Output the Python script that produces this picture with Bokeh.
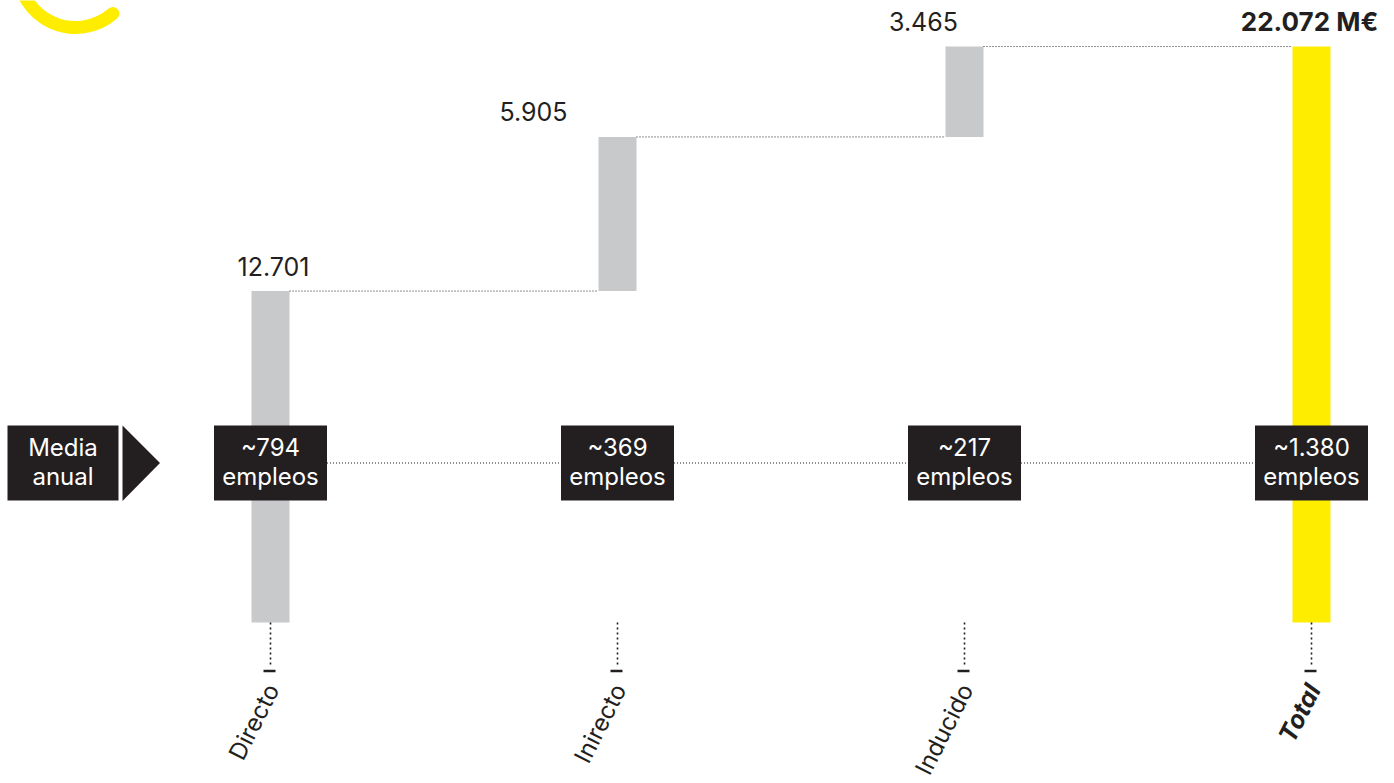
from bokeh.plotting import figure
from bokeh.models import Range1d
from bokeh.embed import file_html
from bokeh.resources import INLINE
from bokeh.core.properties import value

# ---------------- data ----------------
categories = ["Directo", "Inirecto", "Inducido", "Total"]
impacto = [12701, 5905, 3465, 22072]          # M€
value_labels = ["12.701", "5.905", "3.465", "22.072 M€"]
empleos_num = ["~794", "~369", "~217", "~1.380"]
empleos_txt = ["empleos", "empleos", "empleos", "empleos"]

# ---------------- layout ----------------
W, H = 1394, 783
CAT_PX = 347.0          # px between category centres
X0_PX = 270.0           # px of first category centre
BASE_PX = 622.0         # px (from top) of value 0
TOP_PX = 46.0           # px (from top) of the total bar top
scale = (BASE_PX - TOP_PX) / impacto[3]
x_start = -X0_PX / CAT_PX
x_end = x_start + W / CAT_PX
y_start = -(H - BASE_PX) / scale
y_end = y_start + H / scale


def dx(px):
    return px / CAT_PX


def dy(px):
    return px / scale


def xp(px):
    return x_start + px / CAT_PX


def yp(py):
    return y_start + (H - py) / scale


FONT = value("Inter")
INK = "#231f20"
GREY = "#c8c9cb"
YELLOW = "#ffed00"

p = figure(width=W, height=H, x_range=Range1d(x_start, x_end), y_range=Range1d(y_start, y_end),
           output_backend="svg", toolbar_location=None, min_border=0,
           min_border_left=0, min_border_right=0, min_border_top=0, min_border_bottom=0)
p.axis.visible = False
p.grid.visible = False
p.outline_line_color = None
p.background_fill_color = "white"
p.border_fill_color = "white"

idx = list(range(len(categories)))

# waterfall bottoms / tops
bottoms, tops = [], []
cum = 0
for v in impacto[:-1]:
    bottoms.append(cum)
    cum += v
    tops.append(cum)
bottoms.append(0)
tops.append(impacto[-1])
colors = [GREY] * (len(categories) - 1) + [YELLOW]

BW = dx(38)
p.vbar(x=idx, width=BW, bottom=bottoms, top=tops, fill_color=colors, line_color=None)

# connectors between bar tops
p.segment(x0=[i + BW / 2 for i in idx[:-1]], y0=tops[:-1],
          x1=[i + 1 - BW / 2 for i in idx[:-1]], y1=tops[:-1],
          line_color=INK, line_dash="1 2", line_width=1)

# value labels
lab_off = [3, -84, -41, -2]
lab_x = [i + dx(o) for i, o in zip(idx, lab_off)]
lab_y = [t + dy(25) for t in tops]
p.text(x=lab_x[:-1], y=lab_y[:-1], text=value_labels[:-1], text_font=FONT, text_font_size="25px",
       text_color=INK, text_align="center", text_baseline="middle")
p.text(x=lab_x[-1:], y=lab_y[-1:], text=value_labels[-1:], text_font=FONT, text_font_size="26px",
       text_font_style="bold", text_color=INK, text_align="center", text_baseline="middle")

# ticks below bars
tick_end = yp(667)
p.segment(x0=idx, y0=[0] * 4, x1=idx, y1=[tick_end] * 4, line_color=INK, line_dash="2 3", line_width=1.6)
p.scatter(x=[i - dx(1) for i in idx], y=[yp(670.5)] * 4, marker="dash", size=12, line_width=2.5, line_color=INK)

# category labels (rotated)
cat_y = yp(685)
p.text(x=[i + dx(2) for i in idx[:-1]], y=[cat_y] * 3, text=categories[:-1], angle=63, angle_units="deg",
       text_font=FONT, text_font_size="24px", text_color=INK, text_align="right", text_baseline="middle")
p.text(x=[idx[-1] + dx(2)], y=[cat_y], text=categories[-1:], angle=63, angle_units="deg",
       text_font=FONT, text_font_size="25px", text_font_style="bold italic", text_color=INK,
       text_align="right", text_baseline="middle")

# employment boxes
BOX_Y = yp(462.5)
half = dx(56.5)
p.segment(x0=[i + half for i in idx[:-1]], y0=[BOX_Y] * 3, x1=[i + 1 - half for i in idx[:-1]], y1=[BOX_Y] * 3,
          line_color=INK, line_dash="1 2", line_width=1)
p.rect(x=idx, y=[BOX_Y] * 4, width=113, height=75, width_units="screen", height_units="screen",
       fill_color=INK, line_color=None)
p.text(x=idx, y=[yp(447)] * 4, text=empleos_num, text_font=FONT, text_font_size="24px",
       text_color="white", text_align="center", text_baseline="middle")
p.text(x=idx, y=[yp(476)] * 4, text=empleos_txt, text_font=FONT, text_font_size="24px",
       text_color="white", text_align="center", text_baseline="middle")

# "Media anual" box with arrow
p.rect(x=[xp(62.5)], y=[BOX_Y], width=111, height=75, width_units="screen", height_units="screen",
       fill_color=INK, line_color=None)
p.patch(x=[xp(122), xp(122), xp(159.5)], y=[yp(425), yp(500.5), yp(462.5)], fill_color=INK, line_color=None)
p.text(x=[xp(62.5)], y=[yp(447)], text=["Media"], text_font=FONT, text_font_size="24px",
       text_color="white", text_align="center", text_baseline="middle")
p.text(x=[xp(62.5)], y=[yp(476)], text=["anual"], text_font=FONT, text_font_size="24px",
       text_color="white", text_align="center", text_baseline="middle")

# decorative yellow arc top-left
p.arc(x=[xp(75)], y=[yp(-30)], radius=57, radius_units="screen", start_angle=180, end_angle=311,
      start_angle_units="deg", end_angle_units="deg", line_color=YELLOW, line_width=13, line_cap="round")

open("out.html", "w").write(file_html(p, INLINE))
